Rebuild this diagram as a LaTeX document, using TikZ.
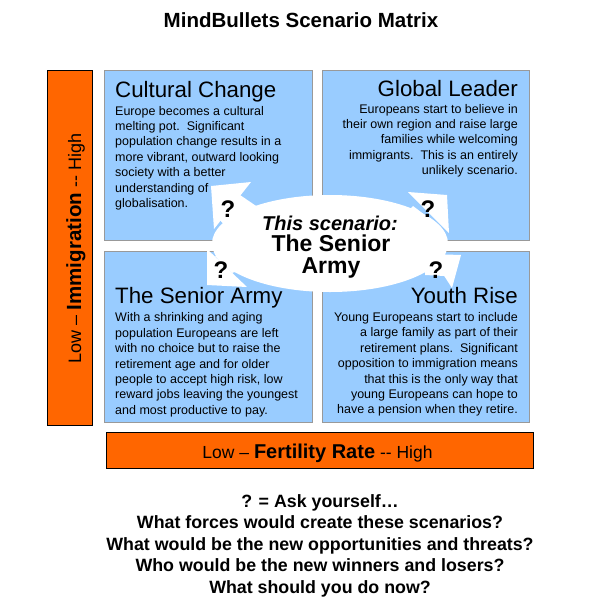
\documentclass[tikz,border=0pt]{standalone}
\usepackage{fontspec}
\setmainfont{Liberation Sans}
\definecolor{qblue}{HTML}{99CCFF}
\definecolor{qborder}{HTML}{999999}
\definecolor{axorange}{HTML}{FF6600}
\tikzset{
  quad/.style={draw=qborder, line width=1.3pt, fill=qblue, inner sep=0pt, anchor=north west},
  axisbar/.style={draw=black, line width=1pt, fill=axorange, inner sep=0pt, anchor=north west},
  qtitle/.style={font=\fontsize{22.3}{26}\selectfont, inner sep=0pt},
  qbody/.style={font=\fontsize{12.5}{15.4}\selectfont, inner sep=0pt},
  qmark/.style={font=\fontsize{24}{28}\selectfont\bfseries, inner sep=0pt, anchor=base},
  bubble/.style={fill=white, draw=none},
  centertext/.style={inner sep=0pt, anchor=base},
}
\begin{document}
\begin{tikzpicture}[x=1pt,y=-1pt]
\useasboundingbox[fill=white] (0,0) rectangle (600,603);
\node[font=\fontsize{20.5}{24}\selectfont\bfseries, anchor=base, inner sep=0pt] (title) at (301,27) {MindBullets Scenario Matrix};

% quadrants
\node[quad, minimum width=208pt, minimum height=170pt] (qtl) at (104,70) {};
\node[quad, minimum width=207pt, minimum height=170pt] (qtr) at (322,70) {};
\node[quad, minimum width=208pt, minimum height=171pt] (qbl) at (104,251) {};
\node[quad, minimum width=207pt, minimum height=171pt] (qbr) at (322,251) {};

% axis bars
\node[axisbar, minimum width=45pt, minimum height=355pt] (yaxis) at (47,70) {};
\node[axisbar, minimum width=427pt, minimum height=36pt] (xaxis) at (106,432) {};

% quadrant texts (base anchor = last line baseline)
\node[qtitle, anchor=base west] (tcc) at (115,97) {Cultural Change};
\node[qbody, anchor=base west, align=left] (bcc) at (115,207.4) {Europe becomes a cultural\\melting pot.~~Significant\\population change results in a\\more vibrant, outward looking\\society with a better\\understanding of\\globalisation.};

\node[qtitle, anchor=base east] (tgl) at (518,96) {Global Leader};
\node[qbody, anchor=base east, align=right] (bgl) at (518,174.6) {Europeans start to believe in\\their own region and raise large\\families while welcoming\\immigrants.~~This is an entirely\\unlikely scenario.};

\node[qtitle, anchor=base west] (tsa) at (115,303) {The Senior Army};
\node[qbody, anchor=base west, align=left] (bsa) at (115,414.2) {With a shrinking and aging\\population Europeans are left\\with no choice but to raise the\\retirement age and for older\\people to accept high risk, low\\reward jobs leaving the youngest\\and most productive to pay.};

\node[qtitle, anchor=base east] (tyr) at (518,303) {Youth Rise};
\node[qbody, anchor=base east, align=right] (byr) at (518,413.8) {Young Europeans start to include\\a large family as part of their\\retirement plans.~~Significant\\opposition to immigration means\\that this is the only way that\\young Europeans can hope to\\have a pension when they retire.};

% central bubble with arrows
\fill[bubble] (330,243.5) ellipse [x radius=118, y radius=48.5];
% top-left arrow
\fill[bubble] (211,186) -- (251,182) -- (214,229) -- cycle;
\fill[bubble] (240,195) -- (265,212) -- (235,238) -- (220,220) -- cycle;
% top-right arrow
\fill[bubble] (447,195) -- (408,192) -- (449,233) -- cycle;
\fill[bubble] (413,206) -- (438,225) -- (425,238) -- (400,220) -- cycle;
% bottom-left arrow
\fill[bubble] (207,285) -- (207,249) -- (247,287) -- cycle;
\fill[bubble] (215,256) -- (232,273) -- (255,265) -- (235,250) -- cycle;
% bottom-right arrow
\fill[bubble] (461,255) -- (430,254) -- (452,288) -- cycle;
\fill[bubble] (438,262) -- (445,276) -- (425,275) -- (425,258) -- cycle;

\node[qmark] (q1) at (228,217) {?};
\node[qmark] (q2) at (428,217) {?};
\node[qmark] (q3) at (221,278) {?};
\node[qmark] (q4) at (436,278) {?};

\node[centertext, font=\fontsize{20}{24}\selectfont\bfseries\itshape] (c1) at (330,230) {This scenario:};
\node[centertext, font=\fontsize{23}{27}\selectfont\bfseries] (c2) at (331,251.5) {The Senior};
\node[centertext, font=\fontsize{23}{27}\selectfont\bfseries] (c3) at (331,273.3) {Army};

% axis labels
\node[inner sep=0pt, anchor=base] (xlab) at (317.5,458) {\fontsize{17.5}{20}\selectfont Low – {\fontsize{20}{22}\selectfont\bfseries Fertility Rate} -{}- High};
\node[inner sep=0pt, anchor=base, rotate=90] (ylab) at (81,248.5) {\fontsize{18}{20}\selectfont Low – {\fontsize{20.5}{22}\selectfont\bfseries Immigration} -{}- High};

% bottom questions
\node[inner sep=0pt, anchor=base, align=center, font=\fontsize{17.8}{21.5}\selectfont\bfseries] (ask) at (320,593) {? = Ask yourself…\\What forces would create these scenarios?\\What would be the new opportunities and threats?\\Who would be the new winners and losers?\\What should you do now?};
\end{tikzpicture}
\end{document}
